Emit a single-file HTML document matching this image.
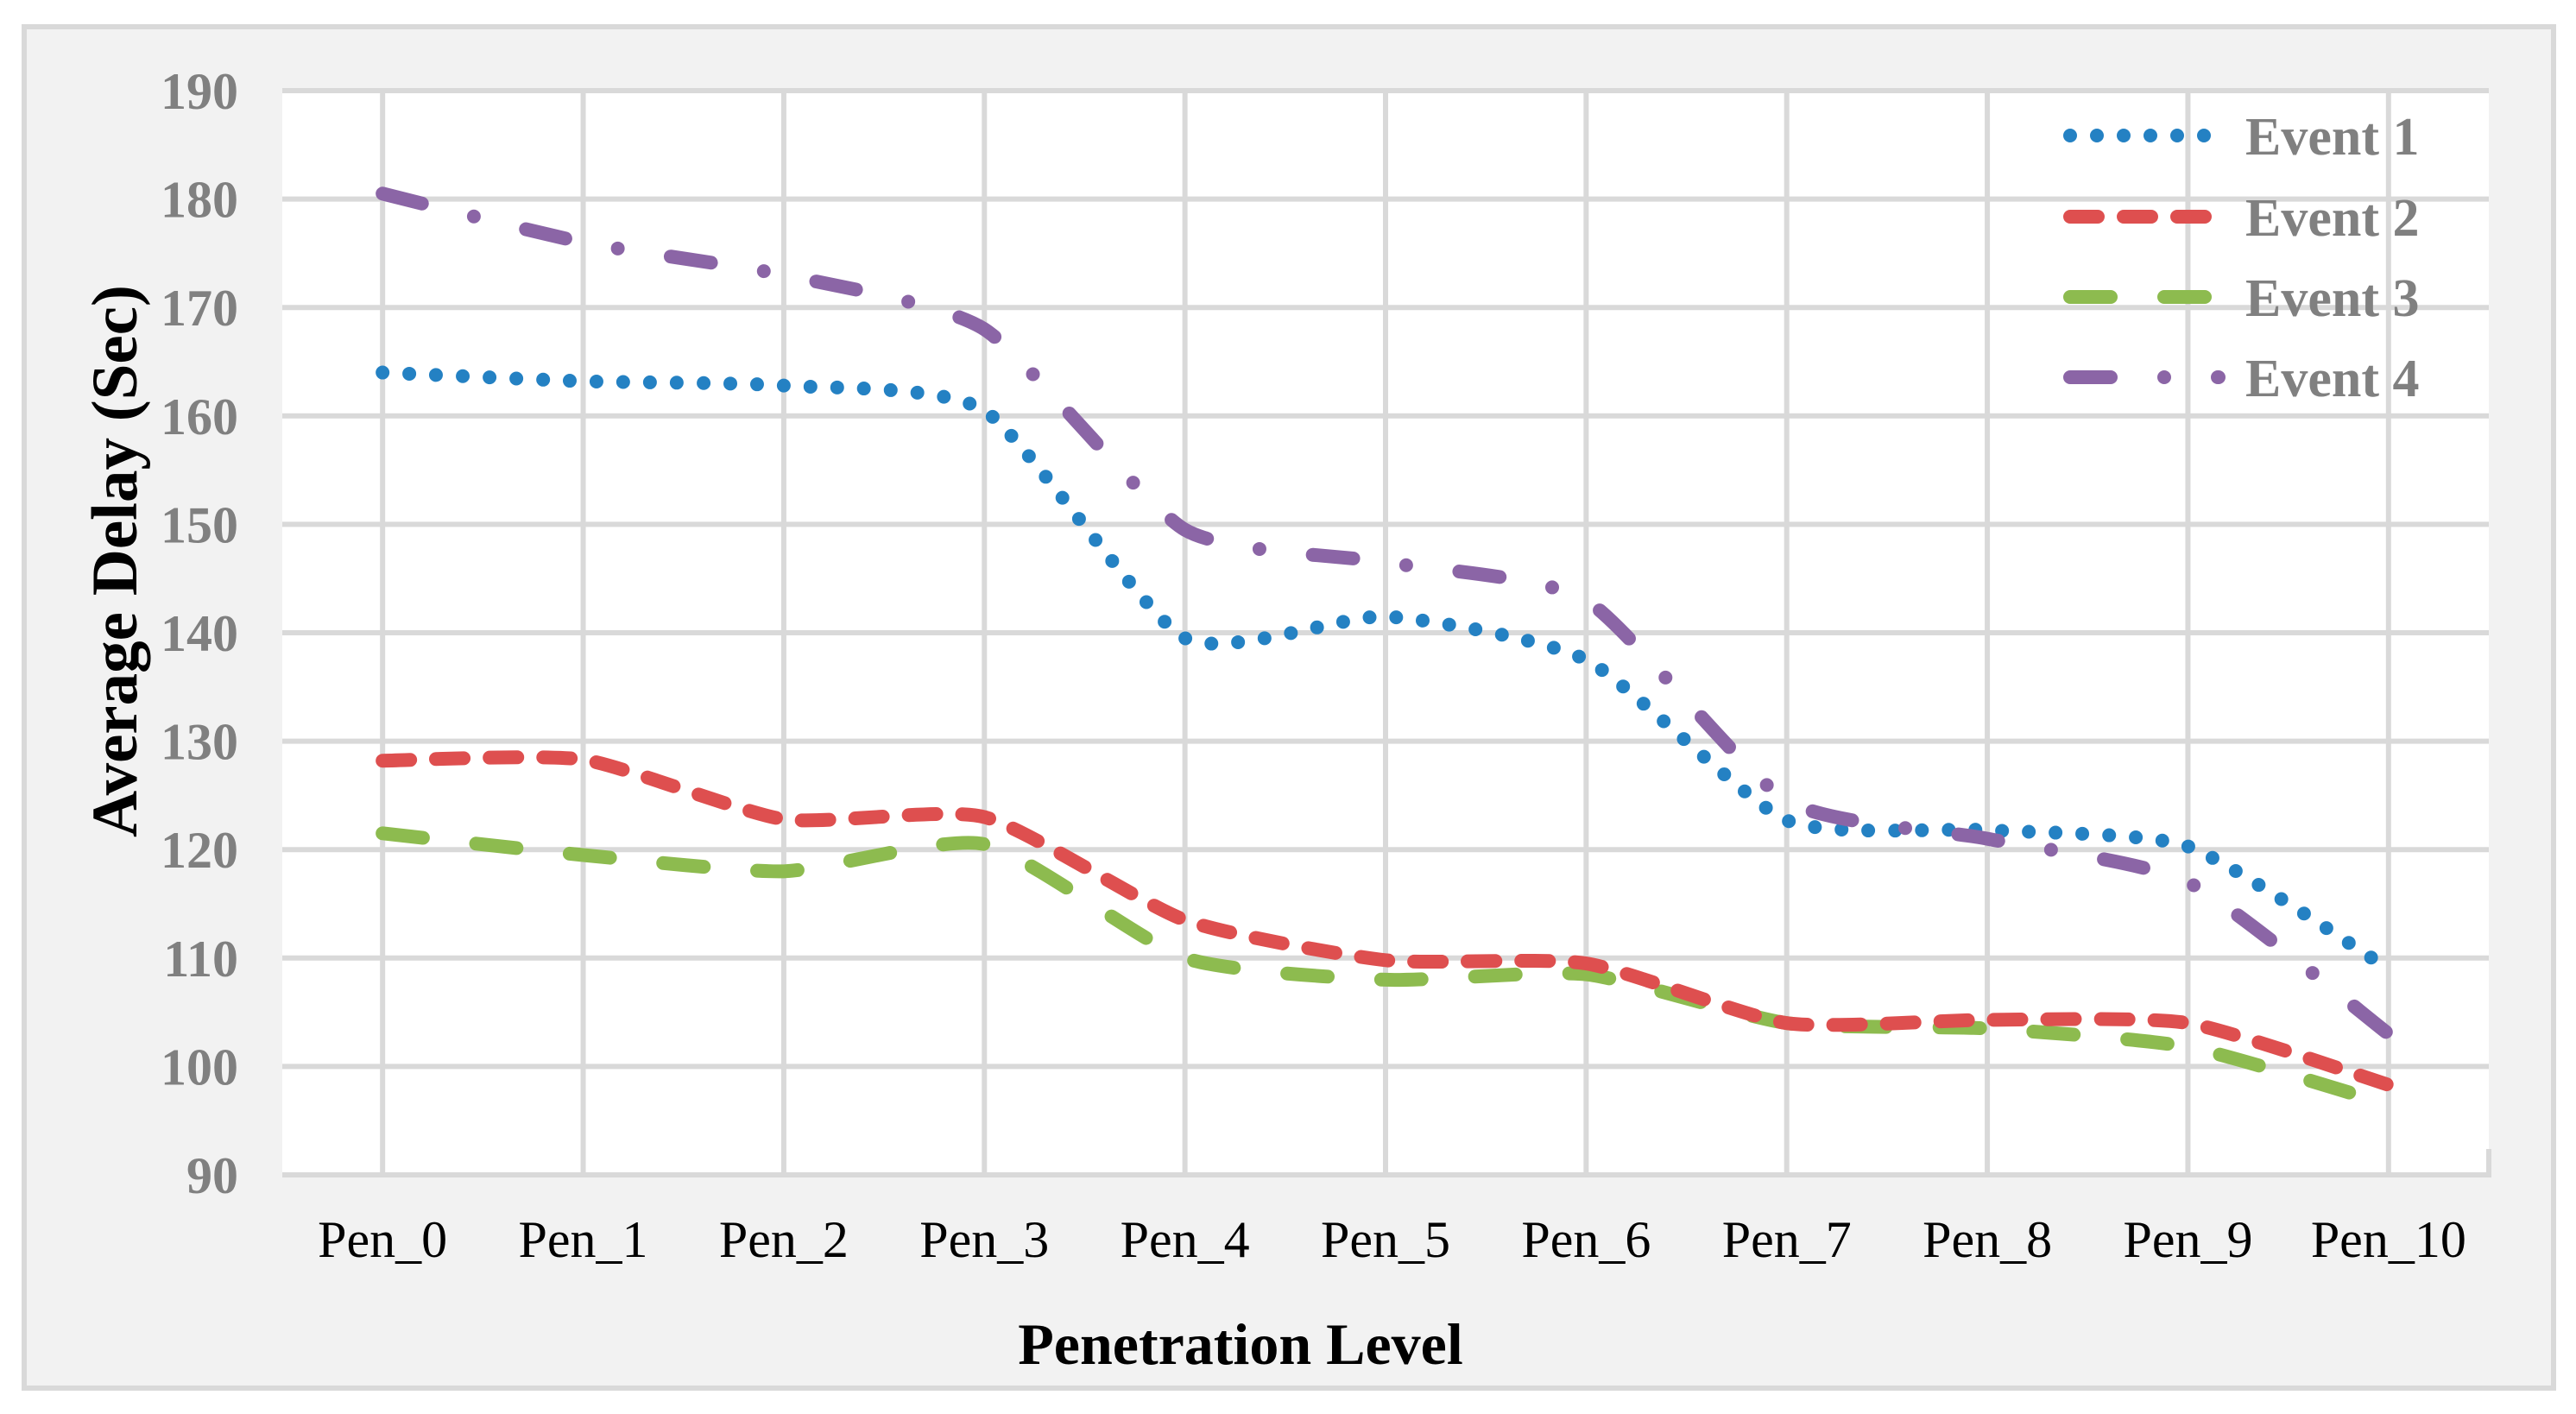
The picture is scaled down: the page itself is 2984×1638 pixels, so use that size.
<!DOCTYPE html>
<html><head><meta charset="utf-8"><style>
html,body{margin:0;padding:0;background:#fff;}
svg{display:block;}
text{font-family:"Liberation Serif","DejaVu Serif",serif;}
</style></head><body>
<svg id="chart" width="2984" height="1638" viewBox="0 0 2984 1638" xmlns="http://www.w3.org/2000/svg">
<rect x="28" y="31" width="2930" height="1577" fill="#f2f2f2" stroke="#d9d9d9" stroke-width="6"/>
<rect x="327" y="105" width="2556" height="1256" fill="#ffffff"/>
<g id="grid"></g>
<g id="yticks"></g>
<g id="xticks"></g>
<g id="series"></g>
<text transform="translate(158,650) rotate(-90)" text-anchor="middle" font-size="75" font-weight="bold" fill="#000">Average Delay (Sec)</text>
<text x="1437" y="1580" text-anchor="middle" font-size="68" font-weight="bold" fill="#000">Penetration Level</text>
<g id="legend"></g>
</svg>
<script>
const categories = ["Pen_0","Pen_1","Pen_2","Pen_3","Pen_4","Pen_5","Pen_6","Pen_7","Pen_8","Pen_9","Pen_10"];
const yTicks = [90,100,110,120,130,140,150,160,170,180,190];
const seriesNames = ["Event 1","Event 2","Event 3","Event 4"];
const event1 = [164,163.2,162.8,160.5,139.5,141.5,137.5,122.7,121.8,120.3,109];
const event2 = [128.2,128.3,122.8,123,113.5,109.8,109.5,104,104.3,104,98.3];
const event3 = [121.5,119.5,118,120.5,110,108,108.5,104,103.5,101.8,96.5];
const event4 = [180.5,176,173,168,149.5,146.5,143,124.5,121,117,103];

const NS = "http://www.w3.org/2000/svg";
const PL = 327, PR = 2883, PT = 105, PB = 1361, YMIN = 90, YMAX = 190;
function xScale(i){ const bw = (PR-PL)/categories.length; return PL + bw*(i+0.5); }
function yScale(v){ return PB - (v-YMIN)/(YMAX-YMIN)*(PB-PT); }
function mk(tag, attrs, parent){ const e=document.createElementNS(NS,tag); for(const k in attrs) e.setAttribute(k,attrs[k]); parent.appendChild(e); return e; }

const grid = document.getElementById('grid');
yTicks.forEach(v=>{
  const l = mk('line',{x1:PL,x2:PR,y1:yScale(v),y2:yScale(v),stroke:'#d9d9d9','stroke-width':6},grid);
  
  
});
categories.forEach((c,i)=>{
  const l = mk('line',{x1:xScale(i),x2:xScale(i),y1:PT,y2:PB,stroke:'#d9d9d9','stroke-width':6},grid);
  
  
});
const rb = mk('line',{x1:PR,x2:PR,y1:PB-30,y2:PB+3,stroke:'#d9d9d9','stroke-width':6},grid);



const yt = document.getElementById('yticks');
yTicks.forEach(v=>{
  const t = mk('text',{x:276,y:yScale(v)+21,'text-anchor':'end','font-size':60,'font-weight':'bold',fill:'#808080'},yt);
  t.textContent = v;
  
  
});
const xt = document.getElementById('xticks');
categories.forEach((c,i)=>{
  const t = mk('text',{x:xScale(i),y:1456,'text-anchor':'middle','font-size':60,fill:'#000'},xt);
  t.textContent = c;
  
  
});

const colors = ["#2481c3","#de4f4f","#8dbb4f","#8b65a6"];
const dashes = ["0 31","32 30","47 62","47 62 0 62"];
const allData = [event1,event2,event3,event4];
function smoothPath(vals){
  const p = vals.map((v,i)=>[xScale(i),yScale(v)]);
  let d = `M${p[0][0]},${p[0][1]}`;
  const f = 0.1;
  for(let i=0;i<p.length-1;i++){
    const p0=p[Math.max(0,i-1)], p1=p[i], p2=p[i+1], p3=p[Math.min(p.length-1,i+2)];
    const c1=[p1[0]+(p2[0]-p0[0])*f, p1[1]+(p2[1]-p0[1])*f];
    const c2=[p2[0]-(p3[0]-p1[0])*f, p2[1]-(p3[1]-p1[1])*f];
    d += ` C${c1[0]},${c1[1]} ${c2[0]},${c2[1]} ${p2[0]},${p2[1]}`;
  }
  return d;
}
const sg = document.getElementById('series');
const order = [2,1,0,3];
order.forEach(k=>{
  const path = mk('path',{d:smoothPath(allData[k]),fill:'none',stroke:colors[k],'stroke-width':16,'stroke-linecap':'round','stroke-linejoin':'round','stroke-dasharray':dashes[k]},sg);
  
  
});

const lg = document.getElementById('legend');
const legendY = [157,251,344,437];
seriesNames.forEach((n,k)=>{
  const l = mk('line',{x1:2398,x2:2570,y1:legendY[k],y2:legendY[k],stroke:colors[k],'stroke-width':16,'stroke-linecap':'round','stroke-dasharray':dashes[k]},lg);
  
  
  const t = mk('text',{x:2601,y:legendY[k]+22,'font-size':62,'font-weight':'bold',fill:'#808080'},lg);
  t.textContent = n;
  
  
});
</script>
</body></html>
